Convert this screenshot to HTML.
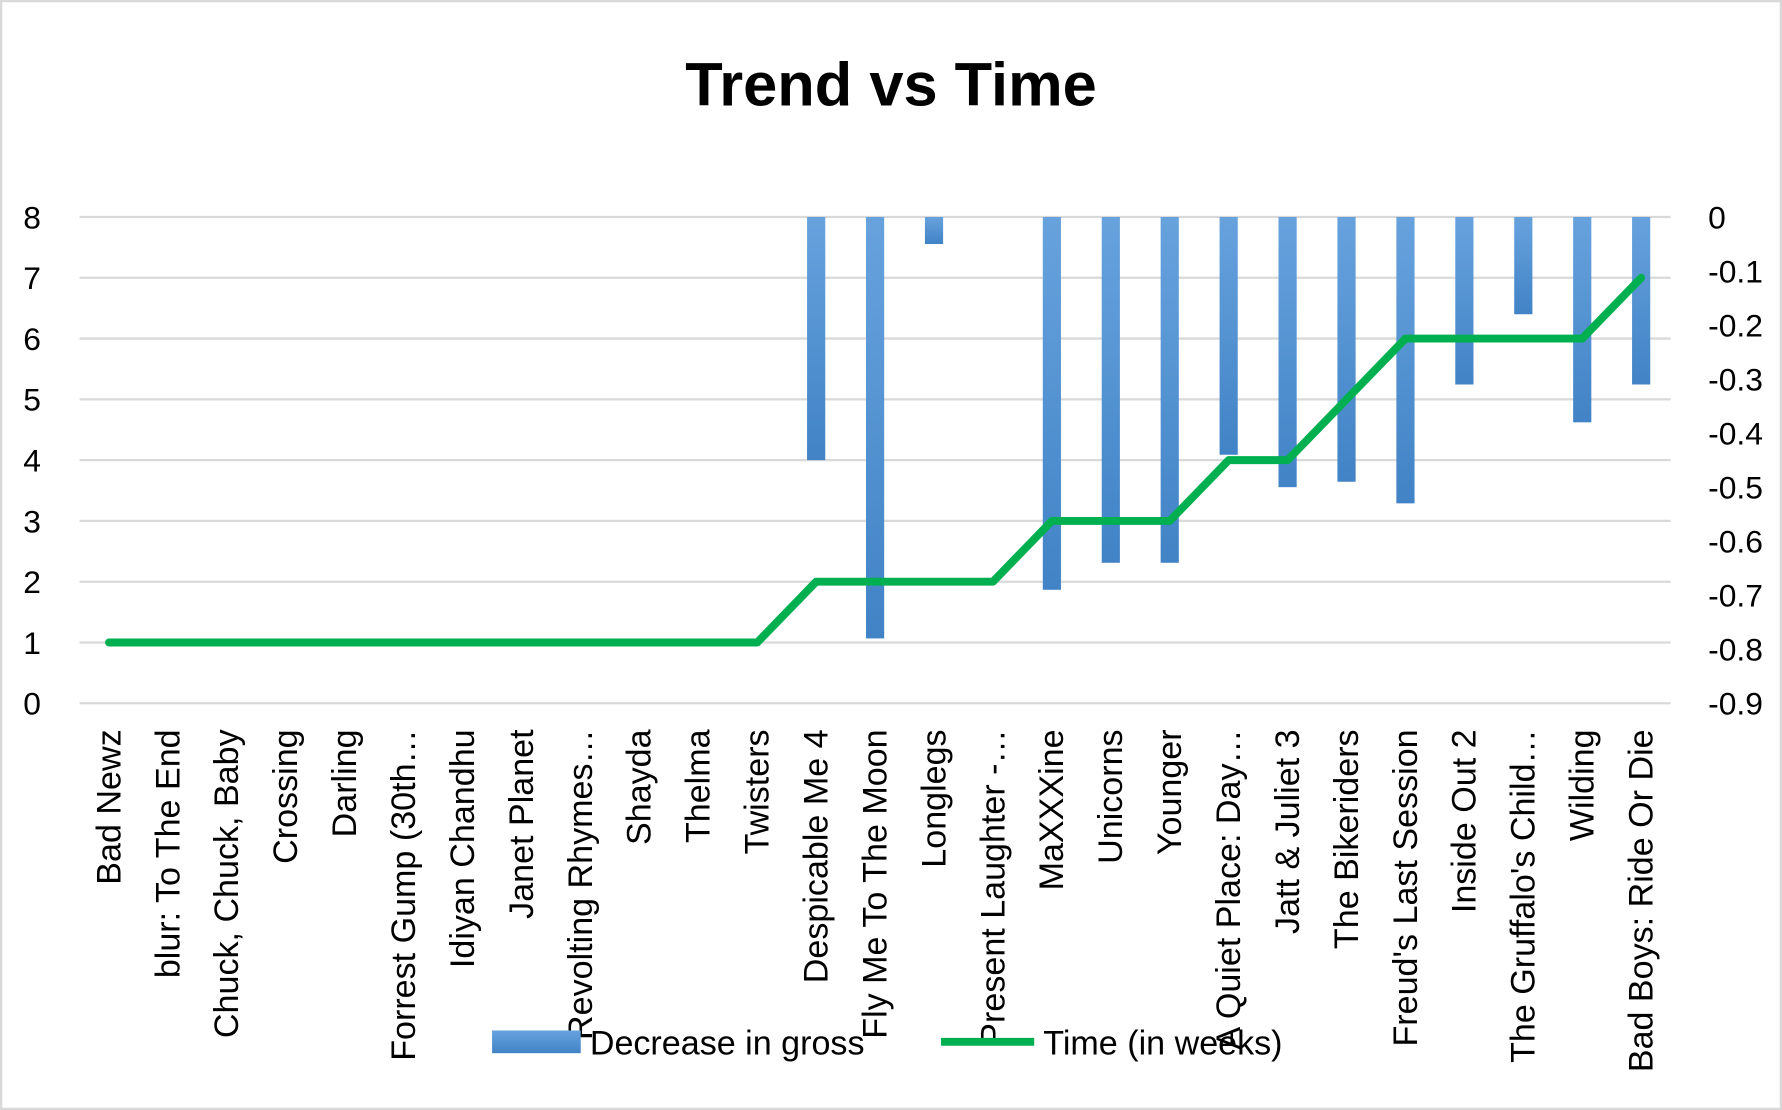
<!DOCTYPE html>
<html><head><meta charset="utf-8"><style>
html,body{margin:0;padding:0;background:#fff;}
svg{display:block;}
text{font-family:"Liberation Sans",sans-serif;fill:#000;}
</style></head><body>
<svg id="chart" width="1782" height="1110" viewBox="0 0 1568 977" preserveAspectRatio="none" xmlns="http://www.w3.org/2000/svg">
<defs><linearGradient id="bg" x1="0" y1="0" x2="0" y2="1"><stop offset="0" stop-color="#67a2dd"/><stop offset="1" stop-color="#4183c6"/></linearGradient></defs>
<rect x="1" y="1" width="1566" height="975" fill="#fff" stroke="#d9d9d9" stroke-width="2"/>
<text x="784" y="93" text-anchor="middle" font-size="54" font-weight="bold">Trend vs Time</text>
<g id="grid"></g><g id="bars"></g><g id="line"></g><g id="axes"></g>
<g>
<rect x="433" y="907" width="78" height="20" fill="url(#bg)"/>
<text x="519" y="928" font-size="30">Decrease in gross</text>
<line x1="828" y1="917" x2="910" y2="917" stroke="#00b050" stroke-width="7"/>
<text x="918" y="928" font-size="30">Time (in weeks)</text>
</g>
</svg>
<script>
const categories = ["Bad Newz","blur: To The End","Chuck, Chuck, Baby","Crossing","Darling","Forrest Gump (30th…","Idiyan Chandhu","Janet Planet","Revolting Rhymes…","Shayda","Thelma","Twisters","Despicable Me 4","Fly Me To The Moon","Longlegs","Present Laughter -…","MaXXXine","Unicorns","Younger","A Quiet Place: Day…","Jatt & Juliet 3","The Bikeriders","Freud's Last Session","Inside Out 2","The Gruffalo's Child…","Wilding","Bad Boys: Ride Or Die"];
const decreaseValues = [null,null,null,null,null,null,null,null,null,null,null,null,-0.45,-0.78,-0.05,null,-0.69,-0.64,-0.64,-0.44,-0.50,-0.49,-0.53,-0.31,-0.18,-0.38,-0.31];
const timeValues = [1,1,1,1,1,1,1,1,1,1,1,1,2,2,2,2,3,3,3,4,4,5,6,6,6,6,7];
const leftTicks = [0,1,2,3,4,5,6,7,8];
const rightTicks = ["0","-0.1","-0.2","-0.3","-0.4","-0.5","-0.6","-0.7","-0.8","-0.9"];
const NS="http://www.w3.org/2000/svg";
const L=70,R=1470,T=191,B=619;
const bw=(R-L)/categories.length;
const xC=i=>L+bw*(i+0.5);
const yL=v=>B-(v/8)*(B-T);
const yR=v=>T+(-v/0.9)*(B-T);
function mk(tag,attrs,parent){const e=document.createElementNS(NS,tag);for(const k in attrs)e.setAttribute(k,attrs[k]);document.getElementById(parent).appendChild(e);return e;}
leftTicks.forEach(v=>{
  const g=mk('line',{x1:L,x2:R,y1:yL(v),y2:yL(v),stroke:'#d9d9d9','stroke-width':2},'grid');
  
  
  const t=mk('text',{x:36,y:yL(v)+10,'text-anchor':'end','font-size':28},'axes');
  t.textContent=v;
  
  
});
rightTicks.forEach(s=>{
  const t=mk('text',{x:1503,y:yR(parseFloat(s))+10,'font-size':28},'axes');
  t.textContent=s;
  
  
});
decreaseValues.forEach((v,i)=>{
  if(v===null)return;
  const r=mk('rect',{x:xC(i)-8,y:yR(0),width:16,height:yR(v)-yR(0),fill:'url(#bg)'},'bars');
  
  
});
const pl=mk('polyline',{points:timeValues.map((v,i)=>xC(i)+','+yL(v)).join(' '),fill:'none',stroke:'#00b050','stroke-width':7,'stroke-linejoin':'round','stroke-linecap':'round'},'line');


categories.forEach((c,i)=>{
  const x=xC(i)+10,y=642;
  const t=mk('text',{x:x,y:y,'text-anchor':'end','font-size':30,transform:`rotate(-90 ${x} ${y})`},'axes');
  t.textContent=c;
  
  
});
</script>
</body></html>
